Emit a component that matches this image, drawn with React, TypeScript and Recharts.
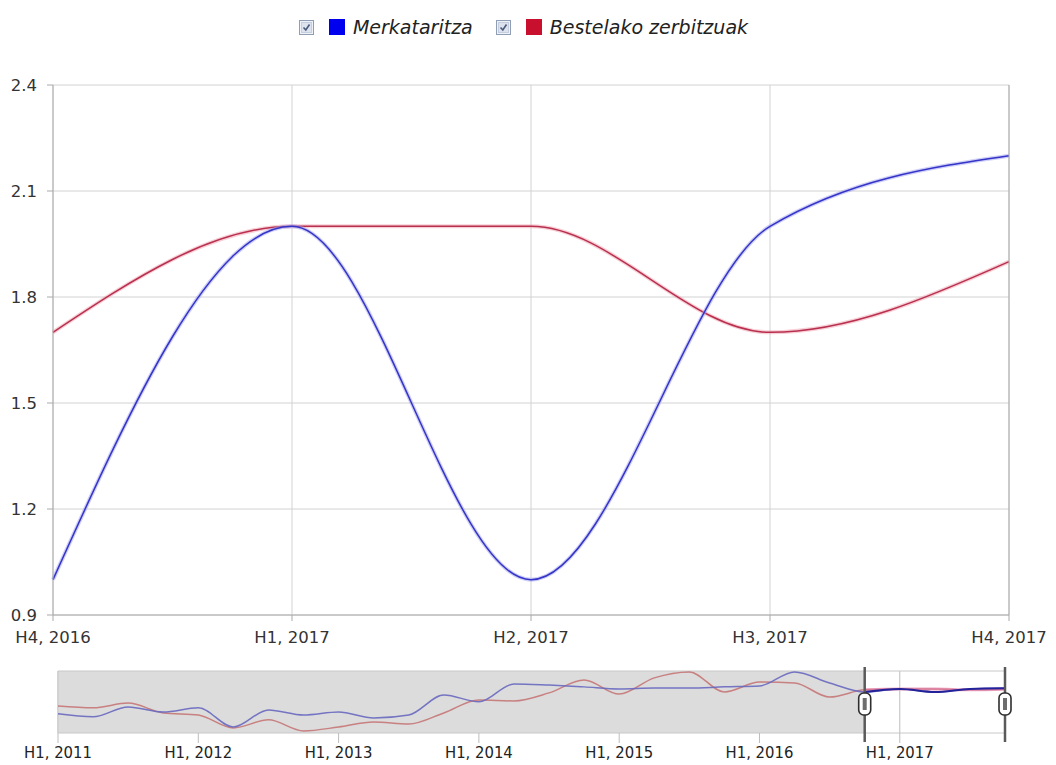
import React from 'react';
import { LineChart, Line, XAxis, YAxis, CartesianGrid, ReferenceArea, ReferenceLine } from 'recharts';

const quarters = [
  'H1, 2011', 'H2, 2011', 'H3, 2011', 'H4, 2011',
  'H1, 2012', 'H2, 2012', 'H3, 2012', 'H4, 2012',
  'H1, 2013', 'H2, 2013', 'H3, 2013', 'H4, 2013',
  'H1, 2014', 'H2, 2014', 'H3, 2014', 'H4, 2014',
  'H1, 2015', 'H2, 2015', 'H3, 2015', 'H4, 2015',
  'H1, 2016', 'H2, 2016', 'H3, 2016', 'H4, 2016',
  'H1, 2017', 'H2, 2017', 'H3, 2017', 'H4, 2017',
];

const merkataritza = [
  -6.3, -7.3, -4.0, -5.7, -4.3, -10.7, -5.0, -6.7, -5.7, -7.7, -6.7, 0.0, -2.3, 3.7,
  3.3, 2.7, 2.0, 2.3, 2.3, 2.7, 3.0, 7.7, 4.0, 1.0, 2.0, 1.0, 2.0, 2.2,
];

const bestelako = [
  -3.7, -4.3, -2.7, -6.0, -6.7, -11.0, -8.3, -12.0, -10.7, -9.0, -9.7, -6.0, -1.7, -2.0,
  0.7, 5.0, 0.3, 5.7, 7.7, 1.0, 4.3, 4.0, -0.7, 1.7, 2.0, 2.0, 1.7, 1.9,
];

const yTicks = [0.9, 1.2, 1.5, 1.8, 2.1, 2.4];
const navTicks = ['H1, 2011', 'H1, 2012', 'H1, 2013', 'H1, 2014', 'H1, 2015', 'H1, 2016', 'H1, 2017'];

const selStart = 23;
const selEnd = 27;

const BLUE = '#0000ee';
const RED = '#c8102e';

const rows = quarters.map((q, i) => ({
  q,
  m: merkataritza[i],
  b: bestelako[i],
  mSel: i >= selStart && i <= selEnd ? merkataritza[i] : null,
  bSel: i >= selStart && i <= selEnd ? bestelako[i] : null,
}));

const mainData = rows.slice(selStart, selEnd + 1);

const legendItems = [
  { name: 'Merkataritza', color: BLUE },
  { name: 'Bestelako zerbitzuak', color: RED },
];

const axisText = { fill: '#333', fontSize: 16.5 };

const CheckBox = () => (
  <svg width={15} height={15} style={{ display: 'block' }}>
    <rect x={0.5} y={0.5} width={14} height={14} fill="#eef1f6" stroke="#8f9db5" />
    <rect x={2.5} y={2.5} width={10} height={10} fill="#dde3ee" stroke="#c5cede" />
    <path d="M4.5 7.5 L6.8 10 L10.5 4.5" fill="none" stroke="#4a5a7a" strokeWidth={1.6} />
  </svg>
);

const Handle = (props: any) => {
  const vb = props.viewBox || {};
  const x = vb.x;
  const top = vb.y;
  const h = vb.height;
  const cy = top + h / 2 + 2;
  return (
    <g>
      <line x1={x} x2={x} y1={top - 4} y2={top + h + 9} stroke="#5a5a5a" strokeWidth={2.5} />
      <rect x={x - 6} y={cy - 11} width={12} height={22} rx={5} fill="#fff" stroke="#2e2e2e" strokeWidth={1.6} />
      <rect x={x - 2} y={cy - 6} width={4} height={12} fill="#6d6d6d" />
    </g>
  );
};

export default function App() {
  return (
    <div
      style={{
        position: 'absolute',
        left: 0,
        top: 0,
        width: 1056,
        height: 765,
        background: '#fff',
        fontFamily: '"DejaVu Sans", Verdana, sans-serif',
      }}
    >
      {/* legend */}
      <div
        style={{
          position: 'absolute',
          left: 0,
          top: 16,
          width: 1056,
          display: 'flex',
          justifyContent: 'center',
          alignItems: 'center',
          paddingLeft: 14,
          boxSizing: 'border-box',
        }}
      >
        {legendItems.map((it) => (
          <div key={it.name} style={{ display: 'flex', alignItems: 'center', marginRight: 23 }}>
            <CheckBox />
            <div style={{ width: 16, height: 16, background: it.color, marginLeft: 15, marginRight: 8 }} />
            <span style={{ fontStyle: 'italic', fontSize: 19, color: '#222' }}>{it.name}</span>
          </div>
        ))}
      </div>

      {/* main chart */}
      <div style={{ position: 'absolute', left: 0, top: 0 }}>
        <LineChart width={1056} height={660} data={mainData} margin={{ top: 85, right: 0, bottom: 15, left: 0 }}>
          <CartesianGrid yAxisId="l" stroke="#d2d2d2" />
          <XAxis
            dataKey="q"
            interval={0}
            tick={axisText}
            tickMargin={10}
            tickSize={6}
            stroke="#aaa"
            height={30}
          />
          <YAxis
            yAxisId="l"
            domain={[0.9, 2.4]}
            ticks={yTicks}
            width={53}
            tickFormatter={(v: number) => v.toFixed(1)}
            tick={axisText}
            tickSize={6}
            tickMargin={10}
            stroke="#aaa"
          />
          <YAxis
            yAxisId="r"
            orientation="right"
            domain={[0.9, 2.4]}
            ticks={yTicks}
            width={47}
            tickFormatter={(v: number) => v.toFixed(1)}
            tick={axisText}
            tickSize={6}
            tickMargin={2}
            stroke="#aaa"
          />
          <Line yAxisId="l" type="monotone" dataKey="b" stroke="#f0a0b0" strokeOpacity={0.5} strokeWidth={4} dot={false} isAnimationActive={false} legendType="none" />
          <Line yAxisId="l" type="monotone" dataKey="b" name="Bestelako zerbitzuak" stroke="#b8304e" strokeWidth={1.5} dot={false} isAnimationActive={false} />
          <Line yAxisId="l" type="monotone" dataKey="m" stroke="#a0a0f0" strokeOpacity={0.5} strokeWidth={4} dot={false} isAnimationActive={false} legendType="none" />
          <Line yAxisId="l" type="monotone" dataKey="m" name="Merkataritza" stroke="#3434c8" strokeWidth={1.5} dot={false} isAnimationActive={false} />
        </LineChart>
      </div>

      {/* navigator */}
      <div style={{ position: 'absolute', left: 0, top: 650 }}>
        <LineChart width={1056} height={115} data={rows} margin={{ top: 21, right: 51, bottom: 0, left: 58 }}>
          <ReferenceArea x1={quarters[0]} x2={quarters[selStart]} fill="#dcdcdc" fillOpacity={1} stroke="none" />
          <CartesianGrid horizontal={false} stroke="#bdbdbd" />
          <XAxis
            dataKey="q"
            ticks={navTicks}
            interval={0}
            tickSize={10}
            tickMargin={3}
            axisLine={false}
            tickLine={{ stroke: '#bdbdbd' }}
            tick={{ fill: '#222', fontSize: 16.5, fontFamily: '"DejaVu Sans Condensed", "DejaVu Sans", sans-serif' }}
            height={32}
          />
          <YAxis hide domain={[-12.7, 8]} />
          <Line type="monotone" dataKey="b" stroke="#c47070" strokeOpacity={0.85} strokeWidth={1.5} dot={false} isAnimationActive={false} />
          <Line type="monotone" dataKey="m" stroke="#6868c0" strokeOpacity={0.9} strokeWidth={1.5} dot={false} isAnimationActive={false} />
          <Line type="monotone" dataKey="bSel" stroke="#e070a0" strokeOpacity={0.6} strokeWidth={3} dot={false} isAnimationActive={false} />
          <Line type="monotone" dataKey="mSel" stroke="#22229a" strokeWidth={2} dot={false} isAnimationActive={false} />
          <ReferenceArea x1={quarters[0]} x2={quarters[quarters.length - 1]} fill="none" stroke="#c8c8c8" />
          <ReferenceLine x={quarters[selStart]} stroke="none" label={<Handle />} />
          <ReferenceLine x={quarters[selEnd]} stroke="none" label={<Handle />} />
        </LineChart>
      </div>
    </div>
  );
}
